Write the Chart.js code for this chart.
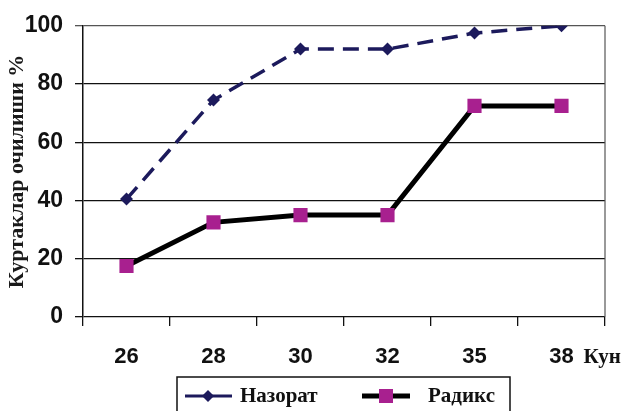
<!DOCTYPE html>
<html>
<head>
<meta charset="utf-8">
<script src="https://cdn.jsdelivr.net/npm/chart.js@4"></script>
<style>
html,body{margin:0;padding:0;background:#fff;}
#wrap{width:624px;height:411px;position:relative;}
</style>
</head>
<body>
<div id="wrap"><canvas id="c" width="624" height="411"></canvas></div>
<script>
const categories = ['26', '28', '30', '32', '35', '38'];
const nazorat = [40.5, 74.5, 92, 92, 97.5, 100];
const radiks = [17.5, 32.5, 35, 35, 72.5, 72.5];
const seriesNames = ['Назорат', 'Радикс'];
const yTitle = 'Куртаклар очилиши %';
const xUnit = 'Кун';

const NAVY = '#1c1a5c';
const MAGENTA = '#a8208f';
const SERIF = '"Liberation Serif", "Times New Roman", serif';
const SANS = '"Liberation Sans", Arial, sans-serif';

const extras = {
  id: 'extras',
  afterDraw(chart) {
    const ctx = chart.ctx;
    const a = chart.chartArea;
    const xs = chart.scales.x;
    ctx.save();
    // right border
    ctx.strokeStyle = '#555';
    ctx.lineWidth = 1.2;
    ctx.beginPath();
    ctx.moveTo(a.right, a.top);
    ctx.lineTo(a.right, a.bottom);
    ctx.stroke();
    // unit label
    ctx.fillStyle = '#111';
    ctx.font = 'bold 21px ' + SERIF;
    ctx.textBaseline = 'middle';
    ctx.textAlign = 'left';
    const lastX = xs.getPixelForValue(categories.length - 1);
    ctx.fillText(xUnit, lastX + 22, 358);
    // legend box
    ctx.strokeStyle = '#111';
    ctx.lineWidth = 1.5;
    ctx.strokeRect(177, 377, 333, 50);
    const ly = 396;
    // item 1
    ctx.strokeStyle = NAVY;
    ctx.lineWidth = 3;
    ctx.beginPath(); ctx.moveTo(185, ly); ctx.lineTo(232, ly); ctx.stroke();
    ctx.fillStyle = NAVY;
    ctx.beginPath();
    ctx.moveTo(208, ly - 6); ctx.lineTo(214, ly); ctx.lineTo(208, ly + 6); ctx.lineTo(202, ly);
    ctx.closePath(); ctx.fill();
    ctx.fillStyle = '#111';
    ctx.font = 'bold 21px ' + SERIF;
    ctx.fillText(chart.data.datasets[0].label, 240, ly + 1);
    // item 2
    ctx.strokeStyle = '#000';
    ctx.lineWidth = 5;
    ctx.beginPath(); ctx.moveTo(362, ly); ctx.lineTo(410, ly); ctx.stroke();
    ctx.fillStyle = MAGENTA;
    ctx.fillRect(379, ly - 7, 14, 14);
    ctx.fillStyle = '#111';
    ctx.fillText(chart.data.datasets[1].label, 428, ly + 1);
    ctx.restore();
  }
};

new Chart(document.getElementById('c'), {
  type: 'line',
  data: {
    labels: categories,
    datasets: [
      {
        label: seriesNames[0],
        data: nazorat,
        borderColor: NAVY,
        backgroundColor: NAVY,
        borderWidth: 3.5,
        borderDash: [16, 9],
        pointStyle: 'rectRot',
        pointRadius: 6.5,
        pointBorderWidth: 0,
        pointBackgroundColor: NAVY,
        tension: 0,
        fill: false
      },
      {
        label: seriesNames[1],
        data: radiks,
        borderColor: '#000',
        backgroundColor: MAGENTA,
        borderWidth: 5,
        pointStyle: 'rect',
        pointRadius: 10,
        pointBorderWidth: 0,
        pointBackgroundColor: MAGENTA,
        tension: 0,
        fill: false
      }
    ]
  },
  options: {
    responsive: false,
    animation: false,
    devicePixelRatio: 1,
    layout: { padding: { top: 21, right: 19, bottom: 34, left: 0 } },
    plugins: { legend: { display: false }, tooltip: { enabled: false } },
    scales: {
      x: {
        offset: true,
        afterFit(s) { s.height = 60; },
        grid: {
          offset: true,
          drawOnChartArea: false,
          drawTicks: true,
          tickLength: 9,
          color: '#111',
          lineWidth: 1.3
        },
        border: { display: false },
        ticks: {
          color: '#111',
          padding: 18,
          font: { family: SANS, size: 22, weight: 'bold' }
        }
      },
      y: {
        min: 0,
        max: 100,
        afterFit(s) { s.width = 83; },
        ticks: {
          stepSize: 20,
          color: '#111',
          padding: 12,
          font: { family: SANS, size: 23, weight: 'bold' }
        },
        grid: {
          color: (c) => (c.tick && c.tick.value === 100 ? '#555' : '#111'),
          lineWidth: 1.3,
          tickLength: 8,
          drawTicks: true
        },
        border: { display: true, color: '#111', width: 1.5 },
        title: {
          display: true,
          text: yTitle,
          color: '#1a1a1a',
          padding: { top: 4, bottom: 0 },
          font: { family: SERIF, size: 22, weight: 'bold' }
        }
      }
    }
  },
  plugins: [extras]
});
</script>
</body>
</html>
